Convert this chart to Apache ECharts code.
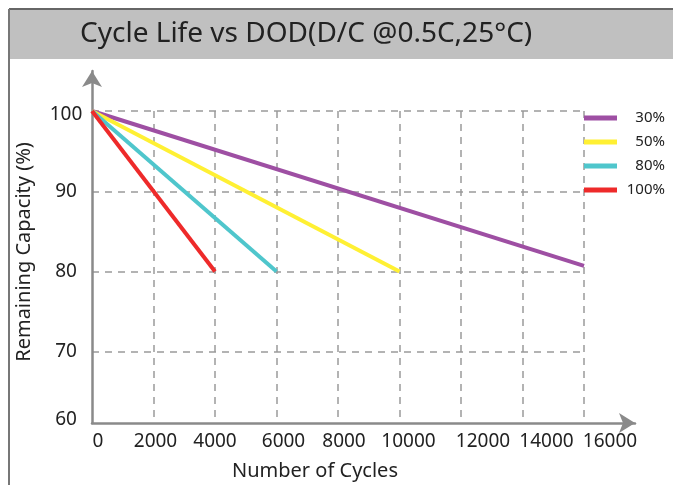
<!DOCTYPE html>
<html><head><meta charset="utf-8">
<script src="https://cdn.jsdelivr.net/npm/echarts@6/dist/echarts.min.js"></script>
<style>html,body{margin:0;padding:0;background:#fff}#c{width:673px;height:485px}</style>
</head><body><div id="c"></div>
<script>
// ---- data ----
const titleText = 'Cycle Life vs DOD(D/C @0.5C,25°C)';
const xName = 'Number of Cycles';
const yName = 'Remaining Capacity (%)';
const seriesNames = ['30%', '50%', '80%', '100%'];
const cycles30 = [0, 16000];  const cap30 = [100, 80.7];
const cycles50 = [0, 10000];  const cap50 = [100, 80];
const cycles80 = [0, 6000];   const cap80 = [100, 80];
const cycles100 = [0, 4000];  const cap100 = [100, 80];
const xTicks = [0, 2000, 4000, 6000, 8000, 10000, 12000, 14000, 16000];
const yTicks = [60, 70, 80, 90, 100];

// ---- style ----
const FONT = 'Noto Sans';
const colors = ['#9E4FA3', '#FFF033', '#4FC6CC', '#EE2A2A'];
const gridDash = {type: [7, 6], color: '#9a9a9a', width: 1.5};
const axisColor = '#8a8a8a';
// label nudges (pixels) to mimic the original artwork
const xNudge = {0: 6, 2000: 2, 4000: 0, 6000: 7, 8000: 6, 10000: 9, 12000: 22, 14000: 24, 16000: 26};
const yNudge = {60: -12, 100: 4};

const xRich = {};
xTicks.forEach(v => { const d = xNudge[v] || 0; xRich['x' + v] = {padding: [0, d < 0 ? -2 * d : 0, 0, d > 0 ? 2 * d : 0], fontSize: 19, fontFamily: FONT, color: '#222'}; });
const yRich = {};
yTicks.forEach(v => { const d = yNudge[v] || 0; yRich['y' + v] = {padding: [d > 0 ? 2 * d : 0, 0, d < 0 ? -2 * d : 0, 0], fontSize: 19, fontFamily: FONT, color: '#222'}; });

const xLast = xTicks[xTicks.length - 1];
const xStep = xTicks[1] - xTicks[0];
const pairs = (xs, ys) => xs.map((x, i) => [x, ys[i]]);
const seriesData = [pairs(cycles30, cap30), pairs(cycles50, cap50), pairs(cycles80, cap80), pairs(cycles100, cap100)];

// plot area: x 92..584 for 0..16000
const PL = 92, PR = 584, W = 673;
const gridAright = W - (PL + (PR - PL) * (xLast + xStep) / xLast);

const chart = echarts.init(document.getElementById('c'), null, {renderer: 'canvas'});
chart.setOption({
  animation: false,
  textStyle: {fontFamily: FONT},
  title: {text: titleText, left: 80, top: 20, padding: 0,
    textStyle: {fontSize: 28, fontWeight: 'normal', color: '#222', fontFamily: FONT}},
  legend: {
    orient: 'vertical', right: 3, top: 104, itemWidth: 33, itemHeight: 5, itemGap: 6,
    icon: 'rect', data: seriesNames,
    formatter: n => '{t|' + n + '}',
    textStyle: {fontSize: 15, color: '#222', fontFamily: FONT, lineHeight: 18,
      rich: {t: {width: 43, align: 'right', fontSize: 15, lineHeight: 18, fontFamily: FONT, color: '#222'}}}
  },
  grid: [
    {left: PL, right: gridAright, top: 111, bottom: 62},   // x grid + labels
    {left: PL, right: W - PR, top: 111, bottom: 53},       // y grid + labels + series
    {left: PL, right: 38, top: 71, bottom: 62}             // arrow axes
  ],
  xAxis: [
    {gridIndex: 0, type: 'value', min: 0, max: xLast + xStep, interval: xStep,
      axisLine: {show: false}, axisTick: {show: false},
      splitLine: {show: true, showMinLine: false, showMaxLine: false, lineStyle: gridDash},
      axisLabel: {margin: 8, lineHeight: 22, showMinLabel: true, showMaxLabel: true,
        formatter: v => (v > xLast ? '' : '{x' + v + '|' + v + '}'), rich: xRich}},
    {gridIndex: 1, type: 'value', min: 0, max: xLast, show: false},
    {gridIndex: 2, type: 'value', min: 0, max: 1,
      axisLine: {show: true, symbol: ['none', 'arrow'], symbolSize: [15, 16], lineStyle: {color: axisColor, width: 2.5}},
      axisTick: {show: false}, axisLabel: {show: false}, splitLine: {show: false}}
  ],
  yAxis: [
    {gridIndex: 0, type: 'value', min: 0, max: 1, show: false},
    {gridIndex: 1, type: 'value', min: 60, max: 100, interval: 10,
      axisLine: {show: false}, axisTick: {show: false},
      splitLine: {show: true, showMinLine: false, lineStyle: gridDash},
      axisLabel: {margin: 26, align: 'center', showMinLabel: true, showMaxLabel: true,
        formatter: v => '{y' + v + '|' + v + '}', rich: yRich}},
    {gridIndex: 2, type: 'value', min: 0, max: 1,
      axisLine: {show: true, symbol: ['none', 'arrow'], symbolSize: [15, 16], lineStyle: {color: axisColor, width: 2.5}},
      axisTick: {show: false}, axisLabel: {show: false}, splitLine: {show: false}}
  ],
  series: seriesNames.map((n, i) => ({
    name: n, type: 'line', xAxisIndex: 1, yAxisIndex: 1, data: seriesData[i],
    showSymbol: false, symbol: 'none', color: colors[i],
    lineStyle: {width: 4, color: colors[i]}, z: 3
  })),
  graphic: [
    {type: 'rect', z: -10, silent: true, shape: {x: 9, y: 9, width: 664, height: 50}, style: {fill: '#c0c0c0'}},
    {type: 'line', z: -5, silent: true, shape: {x1: 9, y1: 9, x2: 673, y2: 9}, style: {stroke: '#666', lineWidth: 2}},
    {type: 'line', z: -5, silent: true, shape: {x1: 9, y1: 9, x2: 9, y2: 485}, style: {stroke: '#777', lineWidth: 2}},
    {type: 'text', silent: true, x: 315, y: 471, style: {text: xName, fontSize: 20, fontFamily: FONT, fill: '#222', align: 'center', verticalAlign: 'middle'}},
    {type: 'text', silent: true, x: 24, y: 252, rotation: Math.PI / 2, style: {text: yName, fontSize: 20, fontFamily: FONT, fill: '#222', align: 'center', verticalAlign: 'middle'}}
  ]
});
</script>
</body></html>
